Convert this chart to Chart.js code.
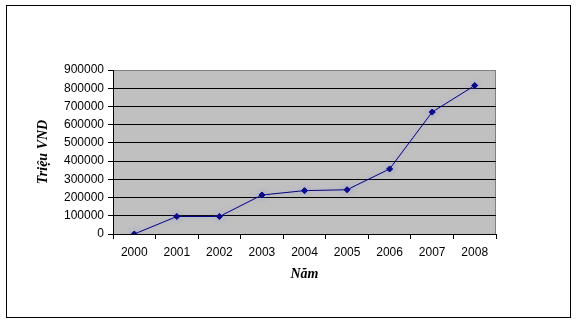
<!DOCTYPE html>
<html>
<head>
<meta charset="utf-8">
<script src="https://cdn.jsdelivr.net/npm/chart.js@4/dist/chart.umd.min.js"></script>
<style>
  html, body { margin: 0; padding: 0; background: #fff; }
  #wrap { position: relative; width: 577px; height: 325px; }
</style>
</head>
<body>
<div id="wrap"><canvas id="chart" width="577" height="325"></canvas></div>
<script>
const years = ["2000", "2001", "2002", "2003", "2004", "2005", "2006", "2007", "2008"];
const revenue = [0, 96000, 96000, 214000, 238000, 243000, 357000, 669000, 815000];
const yTitle = "Triệu VND";
const xTitle = "Năm";

const tickFont = { family: "Liberation Sans", size: 12 };
const titleFont = { family: "Liberation Serif", size: 14, style: "italic", weight: "bold" };

// grey plot background + outer frame
const frame = {
  id: "frame",
  beforeDraw(chart) {
    const { ctx, chartArea: a } = chart;
    ctx.save();
    ctx.fillStyle = "#fff";
    ctx.fillRect(0, 0, chart.width, chart.height);
    ctx.fillStyle = "#c0c0c0";
    ctx.fillRect(a.left, a.top, a.right - a.left, a.bottom - a.top);
    ctx.strokeStyle = "#808080";
    ctx.lineWidth = 1;
    ctx.beginPath();
    ctx.moveTo(a.left, a.top + 0.5);
    ctx.lineTo(a.right - 0.5, a.top + 0.5);
    ctx.lineTo(a.right - 0.5, a.bottom);
    ctx.stroke();
    ctx.strokeStyle = "#000";
    ctx.strokeRect(6.5, 5.5, 564, 312);
    ctx.restore();
  },
  beforeDatasetsDraw(chart) {
    chart.ctx.save();
    chart.ctx.shadowColor = "rgba(140,140,235,0.55)";
    chart.ctx.shadowBlur = 5;
  },
  afterDatasetsDraw(chart) {
    chart.ctx.restore();
  },
};

new Chart(document.getElementById("chart"), {
  type: "line",
  data: {
    labels: years,
    datasets: [{
      data: revenue,
      borderColor: "#000080",
      backgroundColor: "#000080",
      borderWidth: 1,
      pointStyle: "rectRot",
      pointRadius: 3,
      pointBorderWidth: 1,
      tension: 0,
    }],
  },
  options: {
    responsive: false,
    animation: false,
    events: [],
    layout: { padding: { left: 0, right: 81, top: 70, bottom: 0 } },
    plugins: { legend: { display: false }, tooltip: { enabled: false } },
    scales: {
      x: {
        offset: true,
        afterFit: s => { s.height = 91; },
        border: { color: "#000", width: 1 },
        grid: { offset: true, drawOnChartArea: false, drawTicks: true, tickLength: 5, color: "#000" },
        ticks: { font: tickFont, color: "#000", padding: 6, maxRotation: 0 },
        title: { display: true, text: xTitle, font: titleFont, color: "#000", padding: { top: 0, bottom: 42 } },
      },
      y: {
        min: 0,
        max: 900000,
        afterFit: s => { s.width = 113; },
        border: { color: "#000", width: 1 },
        grid: {
          color: c => (c.tick && c.tick.value === 900000 ? "#808080" : "#000"),
          tickColor: "#000",
          tickLength: 5,
        },
        ticks: { stepSize: 100000, font: tickFont, color: "#000", padding: 4, callback: v => String(v) },
        title: { display: true, text: yTitle, font: titleFont, color: "#000", padding: { top: 35, bottom: 0 } },
      },
    },
  },
  plugins: [frame],
});
</script>
</body>
</html>
